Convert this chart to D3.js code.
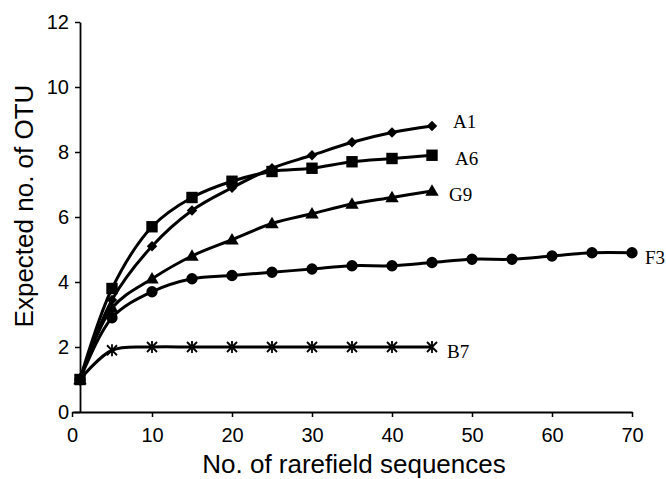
<!DOCTYPE html>
<html>
<head>
<meta charset="utf-8">
<script src="https://cdn.jsdelivr.net/npm/d3@7/dist/d3.min.js"></script>
<style>
  html, body { margin: 0; padding: 0; background: #fff; }
  svg { display: block; }
</style>
</head>
<body>
<svg id="chart" width="666" height="479"></svg>
<script>
// ---------- data ----------
const xA = [1, 5, 10, 15, 20, 25, 30, 35, 40, 45];
const xF3 = [1, 5, 10, 15, 20, 25, 30, 35, 40, 45, 50, 55, 60, 65, 70];
const A1 = [1, 3.45, 5.1, 6.2, 6.9, 7.5, 7.9, 8.3, 8.6, 8.8];
const A6 = [1, 3.8, 5.7, 6.6, 7.1, 7.4, 7.5, 7.7, 7.8, 7.9];
const G9 = [1, 3.2, 4.1, 4.8, 5.3, 5.8, 6.1, 6.4, 6.6, 6.8];
const F3 = [1, 2.9, 3.7, 4.1, 4.2, 4.3, 4.4, 4.5, 4.5, 4.6, 4.7, 4.7, 4.8, 4.9, 4.9];
const B7 = [1, 1.9, 2, 2, 2, 2, 2, 2, 2, 2];
const seriesNames = ["A1", "A6", "G9", "F3", "B7"];
const xTicks = [0, 10, 20, 30, 40, 50, 60, 70];
const yTicks = [0, 2, 4, 6, 8, 10, 12];
const xTitle = "No. of rarefield sequences";
const yTitle = "Expected no. of OTU";

// ---------- styling / layout ----------
const series = [
  { name: "F3", xs: xF3, ys: F3, marker: "circle",   lab: [13, 4.5] },
  { name: "B7", xs: xA,  ys: B7, marker: "star",     lab: [15, 4.5] },
  { name: "G9", xs: xA,  ys: G9, marker: "triangle", lab: [17, 3.5] },
  { name: "A1", xs: xA,  ys: A1, marker: "diamond",  lab: [21, -4.5] },
  { name: "A6", xs: xA,  ys: A6, marker: "square",   lab: [23, 3.5] }
];

const svg = d3.select("#chart");
const x = d3.scaleLinear().domain([0, 70]).range([72, 632]);
const y = d3.scaleLinear().domain([0, 12]).range([412, 22]);

// axes
const gx = svg.append("g").attr("transform", `translate(0,${y(0)})`)
  .call(d3.axisBottom(x).tickValues(xTicks).tickSize(5).tickSizeOuter(0).tickPadding(11));
const gy = svg.append("g").attr("transform", `translate(${x(1)},0)`)
  .call(d3.axisLeft(y).tickValues(yTicks).tickSize(5).tickSizeOuter(0).tickPadding(6));
[gx, gy].forEach(g => {
  g.selectAll("path.domain").attr("stroke", "#000").attr("stroke-width", 1.8);
  g.selectAll(".tick line").attr("stroke", "#000").attr("stroke-width", 1.5);
  g.selectAll(".tick text").attr("fill", "#000")
    .style("font-family", "'Liberation Sans', Arial, sans-serif")
    .style("font-size", "20px");
});

// titles
svg.append("text").attr("x", 354).attr("y", 473).attr("text-anchor", "middle")
  .style("font-family", "'Liberation Sans', Arial, sans-serif").style("font-size", "26px")
  .text(xTitle);
svg.append("text").attr("transform", "translate(33,206) rotate(-90)").attr("text-anchor", "middle")
  .style("font-family", "'Liberation Sans', Arial, sans-serif").style("font-size", "26px")
  .text(yTitle);

// lines
const line = d3.line().curve(d3.curveCatmullRom.alpha(0.5))
  .x(d => x(d[0])).y(d => y(d[1]));
const plot = svg.append("g");
series.forEach(s => {
  const pts = s.xs.map((xv, i) => [xv, s.ys[i]]);
  plot.append("path").datum(pts).attr("d", line)
    .attr("fill", "none").attr("stroke", "#000").attr("stroke-width", 3)
    .attr("stroke-linejoin", "round");
});

// markers
const sym = {
  circle: d3.symbol().type(d3.symbolCircle).size(100),
  triangle: d3.symbol().type(d3.symbolTriangle).size(78),
  diamond: d3.symbol().type(d3.symbolSquare).size(55),
  square: d3.symbol().type(d3.symbolSquare).size(130)
};
series.forEach(s => {
  const pts = s.xs.map((xv, i) => [xv, s.ys[i]]);
  const g = plot.append("g");
  pts.forEach(p => {
    const cx = x(p[0]), cy = y(p[1]);
    if (s.marker === "star") {
      const r = 5;
      g.append("path")
        .attr("d", `M${cx - r},${cy - r}L${cx + r},${cy + r}M${cx - r},${cy + r}L${cx + r},${cy - r}M${cx},${cy - r - 1}L${cx},${cy + r + 1}`)
        .attr("stroke", "#000").attr("stroke-width", 1.8).attr("fill", "none");
    } else if (s.marker === "diamond") {
      g.append("path").attr("d", sym.diamond())
        .attr("transform", `translate(${cx},${cy}) rotate(45)`).attr("fill", "#000");
    } else if (s.marker === "triangle") {
      g.append("path").attr("d", sym.triangle())
        .attr("transform", `translate(${cx},${cy + 1})`).attr("fill", "#000");
    } else {
      g.append("path").attr("d", sym[s.marker]())
        .attr("transform", `translate(${cx},${cy})`).attr("fill", "#000");
    }
  });
  // series label
  const last = pts[pts.length - 1];
  svg.append("text")
    .attr("x", x(last[0]) + s.lab[0]).attr("y", y(last[1]) + s.lab[1])
    .attr("dy", "0.35em")
    .style("font-family", "'Liberation Serif', 'Times New Roman', serif")
    .style("font-size", "19px").attr("fill", "#000")
    .text(s.name);
});
</script>
</body>
</html>
